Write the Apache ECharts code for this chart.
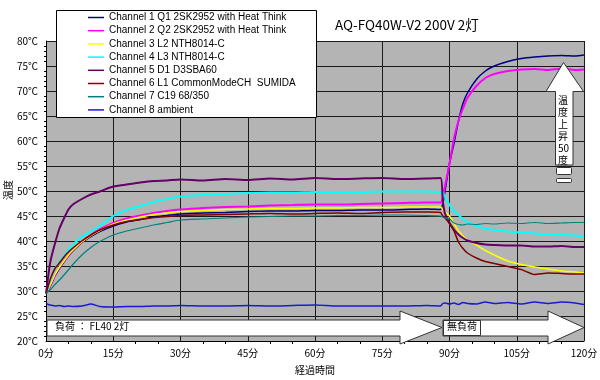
<!DOCTYPE html>
<html><head><meta charset="utf-8">
<script src="https://cdn.jsdelivr.net/npm/echarts@6/dist/echarts.min.js"></script>
<style>html,body{margin:0;padding:0;background:#fff}#c{width:600px;height:380px}</style>
</head><body><div id="c"></div>
<script>
// time (minutes)
const minutes=[0,0.5,1,2,3,4,5,6,8,10,12,15,18,21,24,27,30,35,40,45,50,55,60,65,70,75,80,85,88,88.5,89,90,91,92,93,94,96,98,100,103,106,109,112,115,118,120];
const ch1=[29.5,30.2,31,33,34.5,35.8,37,38,39.7,40.9,41.9,43.0,43.8,44.3,44.8,45.1,45.4,45.6,45.7,45.9,46.0,46.0,46.1,46.1,46.2,46.2,46.3,46.4,46.3,47.5,50,55.5,59.5,64,67.5,69.6,72.3,74,75,75.9,76.5,76.8,77.0,77.1,77.0,77.2];
const ch2=[29.5,30.3,31.2,33.2,34.7,36,37.2,38.2,39.9,41.2,42.3,43.6,44.5,45.1,45.6,46.0,46.3,46.6,46.8,46.9,47.1,47.2,47.3,47.3,47.4,47.5,47.6,47.7,47.7,48.5,51,55.5,60.5,64,66.5,68.6,71,72.6,73.4,74.0,74.3,74.4,74.2,74.5,74.2,74.3];
const ch3=[29.5,30.4,31.3,33.3,34.8,36,37.2,38.2,39.8,41.1,42.1,43.4,44.2,44.8,45.3,45.6,45.9,46.1,46.3,46.4,46.5,46.5,46.6,46.6,46.7,46.7,46.8,46.8,46.8,46.3,45.8,45.0,43.5,42.0,41.0,40.2,39.2,38.1,37.2,36.0,35.3,34.8,34.4,34.0,33.8,33.6];
const ch4=[29.5,30.8,32.3,34.4,35.8,37,38.2,39.3,40.8,41.9,43.0,45.0,46.2,47.0,47.8,48.4,48.9,49.2,49.4,49.6,49.7,49.7,49.8,49.8,49.8,49.9,49.9,49.9,49.8,49.7,48.8,47.2,46.0,45.2,44.4,43.8,43.0,42.5,42.2,41.9,41.7,41.5,41.3,41.2,41.1,41.0];
const ch5=[29.5,33,36,39.5,42.5,44.5,46.3,47.3,48.4,49.3,49.9,50.9,51.3,51.7,52.0,52.1,52.3,52.1,52.4,52.2,52.5,52.3,52.6,52.4,52.5,52.6,52.4,52.5,52.6,48,45.5,43.6,42.3,41.3,40.6,40.1,39.6,39.3,39.2,39.1,39.1,38.9,38.9,39.0,38.8,38.8];
const ch6=[29.5,31,32.5,34.5,35.6,36.8,37.8,38.6,40.0,41.2,42.2,43.2,43.9,44.3,44.7,44.9,45.1,45.2,45.3,45.4,45.5,45.4,45.5,45.6,45.5,45.7,45.8,45.8,45.7,45.0,44.6,43.5,42.0,39.8,38.5,37.6,36.6,35.9,35.5,34.9,34.3,33.3,33.6,33.5,33.4,33.4];
const ch7=[29.5,29.9,30.3,31.3,32.2,33.2,34.2,35.3,37.2,38.7,39.9,41.2,42.0,42.6,43.2,43.7,44.2,44.4,44.6,44.8,44.9,45.0,45.0,45.1,45.1,45.2,45.2,45.1,45.0,44.8,44.6,44.4,43.6,43.3,43.2,43.4,43.3,43.5,43.4,43.6,43.5,43.7,43.5,43.6,43.7,43.7];
const ch8=[27.6,27.3,27.2,27.0,27.1,26.9,27.0,26.9,27.0,27.4,26.9,26.8,26.9,26.9,27.0,27.0,27.1,27.0,27.0,27.1,27.0,27.1,27.2,27.0,27.0,27.0,27.0,27.1,27.0,27.5,27.6,27.4,27.6,27.3,27.7,27.5,27.4,27.8,27.5,27.7,27.4,27.8,27.5,27.8,27.6,27.3];
const channelNames=['Channel 1 Q1 2SK2952 with Heat Think','Channel 2 Q2 2SK2952 with Heat Think','Channel 3 L2 NTH8014-C','Channel 4 L3 NTH8014-C','Channel 5 D1 D3SBA60','Channel 6 L1 CommonModeCH  SUMIDA','Channel 7 C19 68/350','Channel 8 ambient'];
const titleText='AQ-FQ40W-V2 200V 2灯';
const yName='温度', xName='経過時間';
const loadLabel='負荷 ： FL40 2灯', noLoadLabel='無負荷', riseLabel='温\n度\n上\n昇\n50\n度';

const allData=[ch1,ch2,ch3,ch4,ch5,ch6,ch7,ch8];
const colors=['#000080','#ff00ff','#ffff00','#00ffff','#660066','#800000','#008080','#1a1ad0'];
const widths=[1.5,2,1.5,2,2,1.5,1.2,1.5];
const FONT='"Noto Sans CJK JP", "Liberation Sans", sans-serif';

const chart=echarts.init(document.getElementById('c'),null,{renderer:'canvas'});
const series=allData.map((arr,i)=>({
  name:channelNames[i],type:'line',symbol:'none',smooth:0.2,
  data:minutes.map((t,j)=>[t,arr[j]]),
  lineStyle:{color:colors[i],width:widths[i]},itemStyle:{color:colors[i]},
  z:2+ (i===7?0:1)
}));
const stroke='#333';
chart.setOption({
  animation:false,
  textStyle:{fontFamily:FONT},
  title:{text:titleText,left:330,top:13,textStyle:{fontSize:13.5,fontWeight:'normal',color:'#000',fontFamily:FONT}},
  grid:{left:46,right:16,top:41,bottom:39,show:true,backgroundColor:'#b4b4b4',borderWidth:0,containLabel:false,outerBoundsMode:'none'},
  xAxis:{type:'value',min:0,max:120,interval:15,
    axisLine:{lineStyle:{color:'#000',width:1}},
    axisTick:{show:false},
    minorTick:{show:true,splitNumber:3,length:3,lineStyle:{color:'#000'}},
    axisLabel:{formatter:'{value}分',color:'#000',fontSize:10,margin:7,fontFamily:FONT},
    splitLine:{show:true,lineStyle:{color:'#1a1a1a',width:1}},
    name:xName,nameLocation:'middle',nameGap:24,nameTextStyle:{color:'#000',fontSize:10,fontFamily:FONT}},
  yAxis:{type:'value',min:20,max:80,interval:5,
    axisLine:{show:true,lineStyle:{color:'#000',width:1}},
    axisTick:{show:false},
    minorTick:{show:true,splitNumber:5,length:2,lineStyle:{color:'#000'}},
    axisLabel:{formatter:'{value}℃',color:'#000',fontSize:10,margin:8,fontFamily:FONT},
    splitLine:{show:true,lineStyle:{color:'#1a1a1a',width:1}}},
  legend:{orient:'vertical',left:88,top:12.5,padding:0,icon:'rect',itemWidth:16,itemHeight:1.5,itemGap:3.2,z:20,
    textStyle:{fontSize:10,lineHeight:10,color:'#000',fontFamily:'"Liberation Sans", sans-serif'},
    data:channelNames},
  graphic:[
    {type:'text',z:10,x:8,y:190,rotation:Math.PI/2,style:{text:yName,fontSize:10,fill:'#000',align:'center',verticalAlign:'middle',fontFamily:FONT}},
    {type:'rect',z:10,shape:{x:56.5,y:10.5,width:260,height:107},style:{fill:'#fff',stroke:'#000',lineWidth:1}},
    {type:'polygon',z:10,shape:{points:[[47,320],[400,320],[400,311],[442,327.5],[400,344],[400,336],[47,336]]},style:{fill:'#fff',stroke:stroke,lineWidth:1}},
    {type:'text',z:11,left:55,top:321,style:{text:loadLabel,fontSize:10,fill:'#000',fontFamily:FONT}},
    {type:'polygon',z:10,shape:{points:[[443,320],[548,320],[548,311],[584,327.5],[548,344],[548,336],[443,336]]},style:{fill:'#fff',stroke:stroke,lineWidth:1}},
    {type:'rect',z:11,shape:{x:443.5,y:320.5,width:37,height:15},style:{fill:'#fff',stroke:stroke,lineWidth:1}},
    {type:'text',z:12,left:447,top:321,style:{text:noLoadLabel,fontSize:10,fill:'#000',fontFamily:FONT}},
    {type:'polygon',z:10,shape:{points:[[563.5,62.5],[583.5,91.5],[573,91.5],[573,165],[555.5,165],[555.5,91.5],[546,91.5]]},style:{fill:'#fff',stroke:stroke,lineWidth:1}},
    {type:'text',z:11,left:558,top:94,style:{text:riseLabel,fontSize:10,lineHeight:12,fill:'#000',align:'center',fontFamily:FONT}},
    {type:'rect',z:10,shape:{x:556.5,y:167.5,width:15,height:7,r:1},style:{fill:'#fff',stroke:stroke,lineWidth:1}},
    {type:'rect',z:10,shape:{x:556.5,y:178.5,width:15,height:4,r:1},style:{fill:'#fff',stroke:stroke,lineWidth:1}}
  ],
  series:series
});
</script></body></html>
